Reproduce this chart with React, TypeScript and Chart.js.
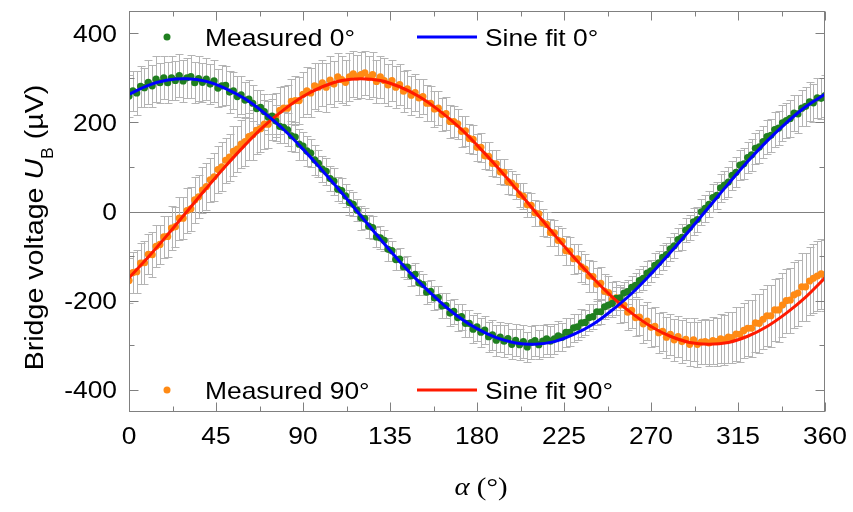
import React, { useEffect, useRef } from 'react';
import { Chart, registerables } from 'chart.js';

Chart.register(...registerables);

const FONT = '"Liberation Sans", Arial, sans-serif';
const SERIF = '"Liberation Serif", "Times New Roman", serif';

const GREEN = '#1f7f1f';
const ORANGE = '#ff8a14';
const BLUE = '#0000ff';
const RED = '#ff1a00';
const AXIS_GREY = '#808080';
const BAR_GREY = '#b4b4b4';
const STRETCH = 1.1;

// measurement angles (deg)
const ANGLES = [
  0, 2, 4, 6, 8, 10, 12, 14, 16, 18, 20, 22, 24, 26, 28, 30, 32, 34, 36, 38,
  40, 42, 44, 46, 48, 50, 52, 54, 56, 58, 60, 62, 64, 66, 68, 70, 72, 74, 76, 78,
  80, 82, 84, 86, 88, 90, 92, 94, 96, 98, 100, 102, 104, 106, 108, 110, 112, 114, 116, 118,
  120, 122, 124, 126, 128, 130, 132, 134, 136, 138, 140, 142, 144, 146, 148, 150, 152, 154, 156, 158,
  160, 162, 164, 166, 168, 170, 172, 174, 176, 178, 180, 182, 184, 186, 188, 190, 192, 194, 196, 198,
  200, 202, 204, 206, 208, 210, 212, 214, 216, 218, 220, 222, 224, 226, 228, 230, 232, 234, 236, 238,
  240, 242, 244, 246, 248, 250, 252, 254, 256, 258, 260, 262, 264, 266, 268, 270, 272, 274, 276, 278,
  280, 282, 284, 286, 288, 290, 292, 294, 296, 298, 300, 302, 304, 306, 308, 310, 312, 314, 316, 318,
  320, 322, 324, 326, 328, 330, 332, 334, 336, 338, 340, 342, 344, 346, 348, 350, 352, 354, 356, 358,
  360,
];

// measured 0°, µV
const MEAS_0 = [
  259, 271, 266, 281, 278, 290, 282, 297, 289, 300, 289, 300, 294, 305, 293, 300, 303, 289, 298, 290,
  297, 286, 293, 277, 282, 283, 268, 271, 258, 262, 250, 252, 243, 231, 234, 224, 212, 214, 203, 191,
  189, 183, 170, 167, 151, 147, 136, 131, 116, 108, 95, 90, 74, 68, 50, 47, 35, 20, 16, 3,
  -14, -16, -33, -36, -57, -59, -65, -85, -88, -108, -107, -124, -125, -144, -141, -160, -164, -181, -179, -194,
  -193, -212, -211, -228, -224, -238, -236, -251, -251, -264, -259, -271, -266, -281, -277, -289, -282, -291, -285, -298,
  -289, -299, -292, -304, -294, -290, -299, -291, -286, -291, -286, -279, -282, -271, -271, -261, -259, -250, -249, -238,
  -236, -225, -225, -214, -210, -206, -195, -194, -183, -180, -170, -166, -155, -150, -138, -133, -121, -115, -103, -97,
  -84, -77, -63, -58, -42, -36, -23, -18, -1, 7, 16, 31, 36, 53, 59, 66, 81, 88, 104, 107,
  121, 127, 142, 145, 157, 168, 171, 184, 187, 199, 204, 209, 221, 219, 232, 236, 246, 244, 255, 254,
  260,
];
const ERR_0 = [
  48, 45, 50, 46, 44, 49, 47, 51, 45, 48, 46, 50, 44, 48, 47, 45, 49, 46, 50, 44,
  47, 45, 48, 43, 46, 44, 47, 42, 45, 43, 41, 43, 40, 42, 38, 40, 37, 39, 36, 38,
  35, 37, 34, 33, 35, 32, 34, 31, 33, 30, 29, 31, 28, 30, 27, 29, 26, 28, 27, 25,
  27, 24, 26, 25, 23, 26, 24, 25, 22, 24, 25, 23, 26, 24, 25, 27, 24, 26, 25, 27,
  26, 28, 27, 29, 28, 30, 29, 31, 30, 32, 31, 33, 32, 34, 33, 35, 34, 36, 35, 34,
  36, 35, 37, 34, 36, 35, 33, 36, 34, 35, 33, 34, 32, 33, 31, 32, 30, 31, 29, 30,
  28, 29, 27, 28, 26, 27, 26, 28, 25, 27, 26, 27, 25, 27, 26, 25, 27, 26, 28, 26,
  27, 28, 26, 29, 27, 28, 30, 28, 29, 31, 29, 31, 30, 32, 31, 33, 32, 34, 33, 35,
  34, 36, 35, 37, 36, 38, 37, 39, 38, 40, 39, 41, 40, 42, 41, 43, 44, 43, 45, 46,
  47,
];

// measured 90°, µV
const MEAS_90 = [
  -155, -137, -135, -116, -115, -96, -97, -78, -74, -57, -56, -37, -34, -15, -15, 2, 6, 26, 33, 48,
  56, 71, 78, 94, 100, 115, 122, 135, 140, 151, 157, 168, 172, 182, 186, 196, 196, 212, 212, 227,
  232, 232, 247, 249, 249, 263, 271, 266, 282, 279, 289, 279, 295, 286, 302, 296, 290, 302, 309, 302,
  307, 311, 301, 307, 292, 302, 294, 284, 294, 279, 285, 270, 275, 261, 267, 255, 258, 243, 243, 230,
  232, 218, 220, 202, 202, 197, 180, 181, 164, 162, 144, 144, 125, 124, 108, 107, 89, 88, 67, 64,
  57, 38, 34, 15, 14, -3, -5, -25, -29, -47, -48, -65, -67, -88, -89, -106, -106, -124, -129, -145,
  -146, -163, -161, -179, -182, -198, -194, -210, -210, -226, -222, -238, -237, -252, -246, -260, -258, -272, -269, -282,
  -276, -288, -281, -292, -287, -298, -288, -298, -293, -292, -295, -290, -292, -286, -288, -282, -283, -275, -276, -267,
  -262, -262, -250, -251, -242, -234, -234, -221, -221, -210, -200, -199, -187, -183, -169, -169, -156, -150, -145, -140,
  -143,
];
const ERR_90 = [
  50, 47, 49, 46, 48, 45, 50, 47, 44, 48, 46, 49, 45, 48, 47, 50, 49, 52, 48, 51,
  53, 50, 54, 52, 55, 51, 53, 56, 52, 54, 55, 53, 56, 54, 52, 55, 53, 51, 54, 52,
  50, 53, 51, 54, 52, 50, 53, 55, 51, 54, 52, 55, 53, 51, 54, 52, 50, 53, 51, 49,
  52, 50, 48, 51, 49, 47, 50, 48, 46, 47, 45, 46, 43, 44, 42, 43, 40, 41, 39, 40,
  38, 37, 36, 37, 35, 34, 35, 33, 32, 33, 31, 32, 30, 31, 29, 30, 28, 29, 28, 27,
  28, 27, 29, 28, 27, 29, 28, 30, 29, 31, 30, 32, 31, 33, 32, 34, 33, 35, 34, 36,
  35, 37, 36, 38, 37, 39, 38, 40, 39, 41, 40, 42, 41, 43, 42, 44, 43, 45, 44, 46,
  45, 47, 46, 48, 47, 49, 48, 50, 49, 51, 52, 53, 54, 55, 56, 57, 58, 60, 61, 62,
  63, 64, 65, 66, 67, 68, 69, 70, 71, 72, 72, 73, 74, 75, 76, 76, 77, 78, 78, 79,
  80,
];

// sine fits
const FIT_ANGLES = [
  0, 10, 20, 30, 40, 50, 60, 70, 80, 90, 100, 110, 120, 130, 140, 150, 160, 170, 180,
  190, 200, 210, 220, 230, 240, 250, 260, 270, 280, 290, 300, 310, 320, 330, 340, 350, 360,
];
const FIT_0 = [
  263, 283, 295, 298, 292, 276, 253, 221, 184, 140, 92, 42, -10, -62, -112, -158, -199, -235, -263,
  -283, -295, -298, -292, -276, -253, -221, -184, -140, -92, -42, 10, 62, 112, 158, 199, 235, 263,
];
const FIT_90 = [
  -149, -102, -52, 0, 52, 102, 149, 192, 228, 258, 280, 294, 298, 294, 280, 258, 228, 192, 149,
  102, 52, 0, -52, -102, -149, -192, -228, -258, -280, -294, -298, -294, -280, -258, -228, -192, -149,
];

const X_TICKS = [0, 45, 90, 135, 180, 225, 270, 315, 360];
const X_MINOR = [22.5, 67.5, 112.5, 157.5, 202.5, 247.5, 292.5, 337.5];
const Y_TICKS = [-400, -200, 0, 200, 400];
const Y_MINOR = [-300, -100, 100, 300];

type Run = { t: string; f: string; dy?: number };

// draws a line of mixed-style text, stretched horizontally like the source figure
function drawRuns(ctx: CanvasRenderingContext2D, runs: Run[], x: number, y: number, align: string, stretch: number) {
  let w = 0;
  runs.forEach((r) => {
    ctx.font = r.f;
    w += ctx.measureText(r.t).width;
  });
  const total = w * stretch;
  const start = align === 'right' ? x - total : align === 'center' ? x - total / 2 : x;
  ctx.save();
  ctx.translate(start, y);
  ctx.scale(stretch, 1);
  ctx.textAlign = 'left';
  ctx.textBaseline = 'alphabetic';
  let cx = 0;
  runs.forEach((r) => {
    ctx.font = r.f;
    ctx.fillText(r.t, cx, r.dy || 0);
    cx += ctx.measureText(r.t).width;
  });
  ctx.restore();
}

const errorBars = {
  id: 'errorBars',
  beforeDatasetsDraw(chart: any) {
    const { ctx, chartArea: a, scales } = chart;
    const xs = scales.x;
    const ys = scales.y;
    ctx.save();
    ctx.beginPath();
    ctx.rect(a.left, a.top, a.right - a.left, a.bottom - a.top);
    ctx.clip();

    const y0 = Math.round(ys.getPixelForValue(0)) + 0.5;
    ctx.strokeStyle = AXIS_GREY;
    ctx.lineWidth = 1;
    ctx.beginPath();
    ctx.moveTo(a.left, y0);
    ctx.lineTo(a.right, y0);
    ctx.stroke();

    ctx.strokeStyle = BAR_GREY;
    chart.data.datasets.forEach((ds: any) => {
      if (!ds.errors) return;
      ctx.beginPath();
      ds.data.forEach((p: any, i: number) => {
        const px = Math.round(xs.getPixelForValue(p.x)) + 0.5;
        const top = Math.round(ys.getPixelForValue(p.y + ds.errors[i])) + 0.5;
        const bot = Math.round(ys.getPixelForValue(p.y - ds.errors[i])) + 0.5;
        ctx.moveTo(px, top);
        ctx.lineTo(px, bot);
        ctx.moveTo(px - 4, top);
        ctx.lineTo(px + 4, top);
        ctx.moveTo(px - 4, bot);
        ctx.lineTo(px + 4, bot);
      });
      ctx.stroke();
    });
    ctx.restore();
  },
};

const frame = {
  id: 'frame',
  afterDatasetsDraw(chart: any) {
    const { ctx, chartArea: a, scales } = chart;
    const l = Math.round(a.left) + 0.5;
    const r = Math.round(a.right) - 0.5;
    const t = Math.round(a.top) + 0.5;
    const b = Math.round(a.bottom) - 0.5;
    ctx.save();
    ctx.strokeStyle = AXIS_GREY;
    ctx.lineWidth = 1;
    ctx.strokeRect(l, t, r - l, b - t);
    ctx.beginPath();
    const xTick = (v: number, len: number) => {
      const px = Math.round(scales.x.getPixelForValue(v)) + 0.5;
      ctx.moveTo(px, b);
      ctx.lineTo(px, b - len);
      ctx.moveTo(px, t);
      ctx.lineTo(px, t + len);
    };
    const yTick = (v: number, len: number) => {
      const py = Math.round(scales.y.getPixelForValue(v)) + 0.5;
      ctx.moveTo(l, py);
      ctx.lineTo(l + len, py);
      ctx.moveTo(r, py);
      ctx.lineTo(r - len, py);
    };
    X_TICKS.forEach((v) => xTick(v, 9));
    X_MINOR.forEach((v) => xTick(v, 5));
    Y_TICKS.forEach((v) => yTick(v, 9));
    Y_MINOR.forEach((v) => yTick(v, 5));
    ctx.stroke();
    ctx.restore();
  },
};

const labels = {
  id: 'labels',
  afterDraw(chart: any) {
    const { ctx, chartArea: a, scales } = chart;
    const tickFont = `24px ${FONT}`;
    ctx.save();
    ctx.fillStyle = '#000';

    // tick labels
    Y_TICKS.forEach((v) => {
      const py = scales.y.getPixelForValue(v);
      drawRuns(ctx, [{ t: String(v), f: tickFont }], a.left - 12, py + 8.5, 'right', STRETCH);
    });
    X_TICKS.forEach((v) => {
      const px = scales.x.getPixelForValue(v);
      drawRuns(ctx, [{ t: String(v), f: tickFont }], px, a.bottom + 32, 'center', STRETCH);
    });

    // legend, two rows inside the plot
    const rows = [
      { y: a.top + 26, dot: GREEN, dotText: 'Measured 0°', line: BLUE, lineText: 'Sine fit 0°' },
      { y: a.bottom - 22, dot: ORANGE, dotText: 'Measured 90°', line: RED, lineText: 'Sine fit 90°' },
    ];
    rows.forEach((row) => {
      ctx.fillStyle = row.dot;
      ctx.beginPath();
      ctx.arc(a.left + 38, row.y, 3.5, 0, Math.PI * 2);
      ctx.fill();
      ctx.strokeStyle = row.line;
      ctx.lineWidth = 3;
      ctx.beginPath();
      ctx.moveTo(a.left + 288, row.y);
      ctx.lineTo(a.left + 348, row.y);
      ctx.stroke();
      ctx.fillStyle = '#000';
      drawRuns(ctx, [{ t: row.dotText, f: tickFont }], a.left + 76, row.y + 9, 'left', STRETCH);
      drawRuns(ctx, [{ t: row.lineText, f: tickFont }], a.left + 356, row.y + 9, 'left', STRETCH);
    });

    // y title: Bridge voltage U_B (µV)
    ctx.save();
    ctx.translate(43, 227.5);
    ctx.rotate(-Math.PI / 2);
    drawRuns(
      ctx,
      [
        { t: 'Bridge voltage ', f: `26px ${FONT}` },
        { t: 'U', f: `italic 26px ${FONT}` },
        { t: 'B', f: `16px ${FONT}`, dy: 10 },
        { t: ' (µV)', f: `26px ${FONT}` },
      ],
      0,
      0,
      'center',
      STRETCH,
    );
    ctx.restore();

    // x title: α (°)
    drawRuns(
      ctx,
      [
        { t: 'α', f: `italic 25px ${SERIF}` },
        { t: ' (°)', f: `25px ${SERIF}` },
      ],
      (a.left + a.right) / 2 + 4,
      495,
      'center',
      1.15,
    );
    ctx.restore();
  },
};

const App: React.FC = () => {
  const canvasRef = useRef<HTMLCanvasElement>(null);
  const chartRef = useRef<Chart | null>(null);

  useEffect(() => {
    document.body.style.margin = '0';
    if (!canvasRef.current) return;
    if (chartRef.current) chartRef.current.destroy();

    chartRef.current = new Chart(canvasRef.current, {
      type: 'scatter',
      data: {
        datasets: [
          {
            label: 'Sine fit 0°',
            data: FIT_ANGLES.map((a, i) => ({ x: a, y: FIT_0[i] })),
            showLine: true,
            borderColor: BLUE,
            borderWidth: 3,
            pointRadius: 0,
            tension: 0.4,
            order: 1,
            clip: 0,
          },
          {
            label: 'Sine fit 90°',
            data: FIT_ANGLES.map((a, i) => ({ x: a, y: FIT_90[i] })),
            showLine: true,
            borderColor: RED,
            borderWidth: 3,
            pointRadius: 0,
            tension: 0.4,
            order: 1,
            clip: 0,
          },
          {
            label: 'Measured 0°',
            data: ANGLES.map((a, i) => ({ x: a, y: MEAS_0[i] })),
            errors: ERR_0,
            backgroundColor: GREEN,
            borderWidth: 0,
            pointRadius: 3.6,
            order: 2,
            clip: 0,
          },
          {
            label: 'Measured 90°',
            data: ANGLES.map((a, i) => ({ x: a, y: MEAS_90[i] })),
            errors: ERR_90,
            backgroundColor: ORANGE,
            borderWidth: 0,
            pointRadius: 3.6,
            order: 2,
            clip: 0,
          },
        ] as any,
      },
      options: {
        animation: false,
        responsive: true,
        maintainAspectRatio: false,
        layout: { padding: { left: 0, right: 28, top: 11, bottom: 0 } },
        plugins: {
          legend: { display: false },
          tooltip: { enabled: false },
        },
        scales: {
          x: {
            type: 'linear',
            min: 0,
            max: 360,
            afterFit: (s: any) => {
              s.height = 100;
              s.paddingLeft = 0;
              s.paddingRight = 0;
            },
            grid: { display: false, drawTicks: false },
            border: { display: false },
            ticks: { display: false },
          },
          y: {
            type: 'linear',
            min: -450,
            max: 450,
            afterFit: (s: any) => {
              s.width = 129;
              s.paddingTop = 0;
              s.paddingBottom = 0;
            },
            grid: { display: false, drawTicks: false },
            border: { display: false },
            ticks: { display: false },
          },
        },
      },
      plugins: [errorBars, frame, labels],
    });

    return () => {
      if (chartRef.current) {
        chartRef.current.destroy();
        chartRef.current = null;
      }
    };
  }, []);

  return (
    <div style={{ position: 'relative', width: 853, height: 512 }}>
      <canvas ref={canvasRef} />
    </div>
  );
};

export default App;
